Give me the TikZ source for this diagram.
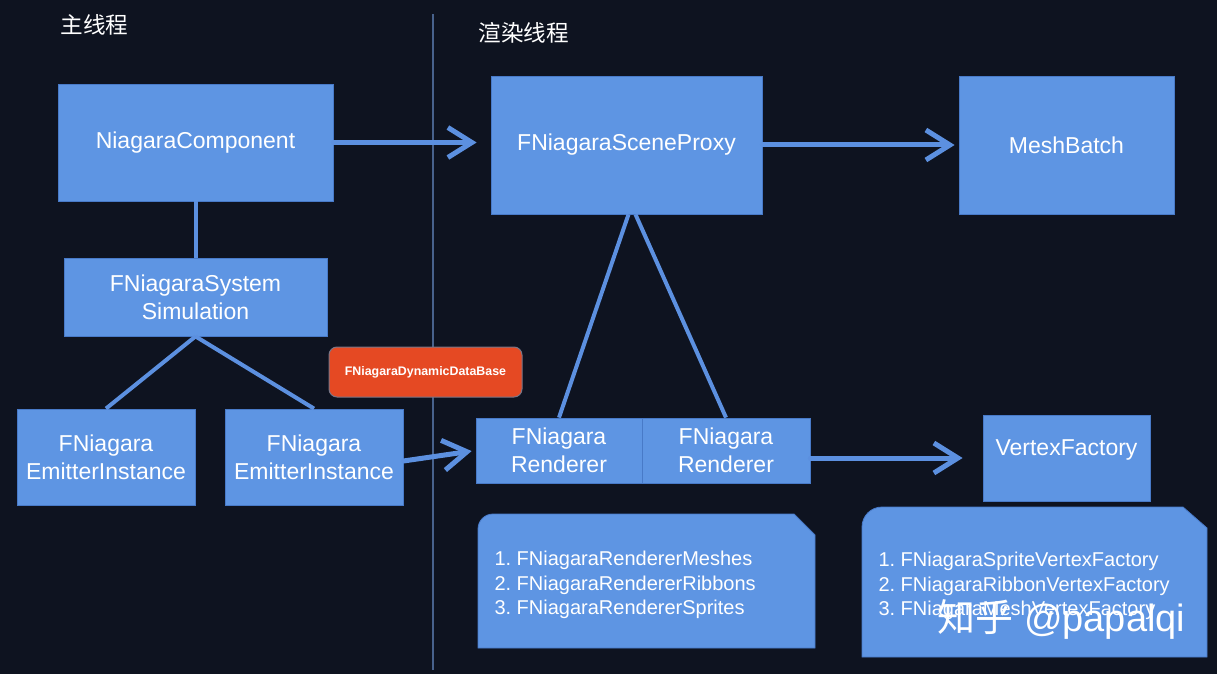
\documentclass[tikz,border=0pt]{standalone}
\usepackage{fontspec}
\setmainfont{Liberation Sans}
\newfontfamily\cjk{Noto Sans CJK SC}
\usetikzlibrary{arrows.meta}
\definecolor{fondo}{RGB}{14,19,32}
\definecolor{azulcaja}{RGB}{94,149,227}
\definecolor{bordecaja}{RGB}{72,122,200}
\definecolor{azullinea}{RGB}{92,144,224}
\definecolor{naranja}{RGB}{229,73,35}
\definecolor{divisor}{RGB}{72,98,140}
\frenchspacing

\begin{document}
\begin{tikzpicture}[x=.5pt,y=-.5pt,
  caja/.style={draw=bordecaja,line width=.4pt,fill=azulcaja,text=white,align=center,
    inner sep=0pt,font=\fontsize{11.5}{13.8}\selectfont},
  titulo/.style={anchor=west,text=white,inner sep=0pt,font=\cjk\fontsize{11.3}{13}\selectfont},
  nota/.style={fill=azulcaja,draw=bordecaja,line width=.4pt},
  textonota/.style={anchor=west,align=left,text=white,inner sep=0pt,
    font=\fontsize{10}{12.3}\selectfont},
  enlace/.style={draw=azullinea,line width=2pt},
  flecha/.style={enlace,line width=2.5pt,line cap=round,
    -{Straight Barb[length=12pt,width=15pt,line width=2.5pt]}}]
\pgfsetlinewidth{.5pt}
% Fondo y marco
\fill[fondo] (0,0) rectangle (1217,674);
\coordinate (divA) at (433,14);
\coordinate (divB) at (433,670);
\draw[divisor,line width=.6pt] (divA) -- (divB);
% Titulos
\node[titulo] (tMain) at (60,25) {主线程};
\node[titulo] (tRender) at (478,33) {渲染线程};
% Hilo principal
\node[caja,minimum width=137.5pt,minimum height=58.5pt] (comp) at (195.5,142.5) {NiagaraComponent};
\node[caja,minimum width=131.5pt,minimum height=39pt] (sim) at (195.5,297) {FNiagaraSystem\\Simulation};
\node[caja,minimum width=89pt,minimum height=48pt] (emL) at (106,457) {FNiagara\\EmitterInstance};
\node[caja,minimum width=89pt,minimum height=48pt] (emR) at (314,457) {FNiagara\\EmitterInstance};
\node[draw={rgb,255:red,120;green,118;blue,135},line width=.5pt,fill=naranja,rounded corners=4pt,
  minimum width=96.5pt,minimum height=25pt,inner sep=0pt,text=white,
  font=\bfseries\fontsize{6.2}{7}\selectfont] (ddb) at (425.5,372) {FNiagaraDynamicDataBase};
% Hilo de render
\node[caja,minimum width=135.5pt,minimum height=69pt] (proxy) at (626.5,145) {FNiagaraSceneProxy};
\node[caja,minimum width=107.5pt,minimum height=69pt] (mesh) at (1066.5,145) {MeshBatch};
\node[caja,minimum width=83pt,minimum height=32.5pt] (rendA) at (559,450.5) {FNiagara\\Renderer};
\node[caja,minimum width=84pt,minimum height=32.5pt] (rendB) at (726,450.5) {FNiagara\\Renderer};
\node[caja,minimum width=83.5pt,minimum height=43pt,text depth=10pt] (vf) at (1066.5,458) {VertexFactory};
% Notas
\draw[nota] (478,648) -- (478,529) arc[start angle=180,end angle=270,radius=15]
  -- (794,514) -- (815,535) -- (815,648) -- cycle;
\node[textonota] (notaRend) at (494,585) {1. FNiagaraRendererMeshes\\2. FNiagaraRendererRibbons\\3. FNiagaraRendererSprites};
\draw[nota] (862,657) -- (862,527) arc[start angle=180,end angle=270,radius=20]
  -- (1183,507) -- (1207,528) -- (1207,657) -- cycle;
\node[textonota] (notaVF) at (878,586) {1. FNiagaraSpriteVertexFactory\\2. FNiagaraRibbonVertexFactory\\3. FNiagaraMeshVertexFactory};
% Conexiones
\draw[enlace] (comp.south) -- (sim.north);
\draw[enlace] (sim.south) -- (emL.north);
\draw[enlace] (sim.south) -- (emR.north);
\draw[enlace] ([xshift=1pt]proxy.south) -- (rendA.north);
\draw[enlace] ([xshift=4.5pt]proxy.south) -- (rendB.north);
\draw[flecha,shorten >=7pt] (comp.east) -- (comp.east -| proxy.west);
\draw[flecha,shorten >=2pt] (proxy.east) -- (mesh.west);
\draw[flecha,shorten >=2pt] ([yshift=-2pt]emR.east) -- (rendA.west);
\draw[flecha,shorten >=10pt] (rendB.east |- vf.west) -- (vf.west);
% Marca de agua
\node[anchor=west,text=white,inner sep=0pt,font=\fontsize{19}{22}\selectfont] (marca) at (937,619) {{\cjk 知乎} @papalqi};
\end{tikzpicture}
\end{document}
